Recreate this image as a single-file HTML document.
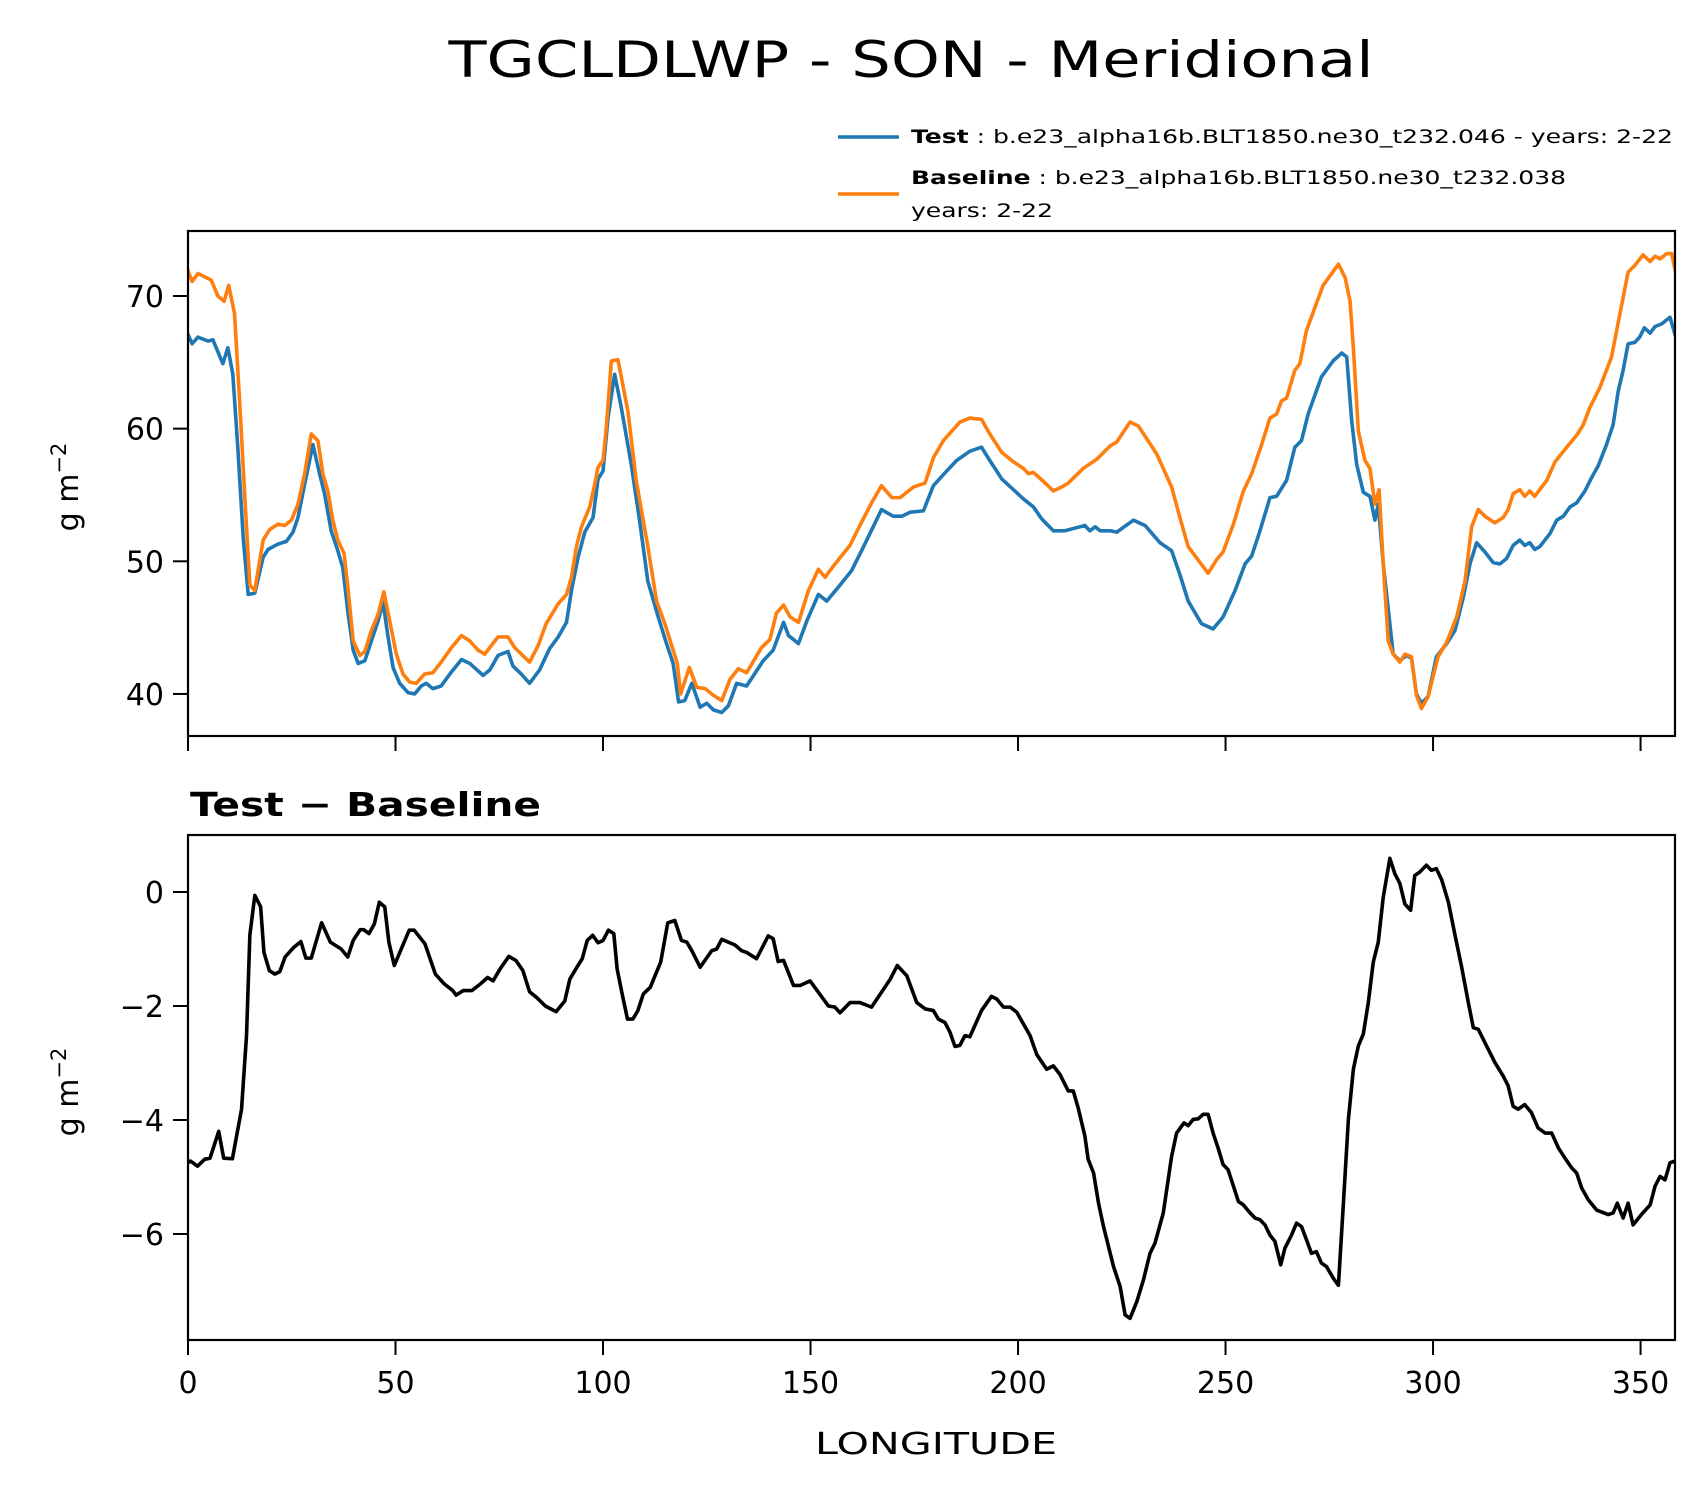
<!DOCTYPE html>
<html><head><meta charset="utf-8"><style>
html,body{margin:0;padding:0;background:#fff}
svg{display:block;font-family:"DejaVu Sans","Liberation Sans",sans-serif}
</style></head><body>
<svg id="chart" width="1708" height="1496" viewBox="0 0 1708 1496" xmlns="http://www.w3.org/2000/svg">
<rect x="0" y="0" width="1708" height="1496" fill="#fff"/>
<text x="911" y="77" font-size="50" text-anchor="middle" textLength="925" lengthAdjust="spacingAndGlyphs">TGCLDLWP - SON - Meridional</text>
<g>
<line x1="838" y1="137" x2="899" y2="137" stroke="#1f77b4" stroke-width="3.5"/>
<text x="911" y="143" font-size="19" textLength="762" lengthAdjust="spacingAndGlyphs"><tspan font-weight="bold">Test</tspan> : b.e23_alpha16b.BLT1850.ne30_t232.046 - years: 2-22</text>
<line x1="838" y1="194" x2="899" y2="194" stroke="#ff7f0e" stroke-width="3.5"/>
<text x="911" y="184" font-size="19" textLength="655" lengthAdjust="spacingAndGlyphs"><tspan font-weight="bold">Baseline</tspan> : b.e23_alpha16b.BLT1850.ne30_t232.038</text>
<text x="911" y="217" font-size="19" textLength="142" lengthAdjust="spacingAndGlyphs">years: 2-22</text>
</g>
<text x="190" y="816" font-size="33" font-weight="bold" textLength="351" lengthAdjust="spacingAndGlyphs">Test − Baseline</text>
<text x="936" y="1454" font-size="30" text-anchor="middle" textLength="242" lengthAdjust="spacingAndGlyphs">LONGITUDE</text>
<text transform="translate(78,487) rotate(-90)" font-size="30" text-anchor="middle">g m<tspan dy="-12" font-size="21">−2</tspan></text>
<text transform="translate(78,1092) rotate(-90)" font-size="30" text-anchor="middle">g m<tspan dy="-12" font-size="21">−2</tspan></text>
<g id="top"></g>
<g id="bot"></g>
</svg>
<script>
const baseLon=[0,1,2.4,5.6,7.2,8.7,9.8,11.2,12.4,13.7,14.9,16.1,18.1,19.7,21.7,23.3,24.9,26.5,28.1,29.7,31.3,32.5,33.7,34.9,36.1,37.6,38.6,39.8,41.4,42.6,44.2,45.8,47.2,48.6,50.2,51.8,53.4,55,57,59,61,63.5,65.9,67.9,69.9,71.5,74.7,77.1,78.7,80.3,82.3,84.3,86.3,89.2,91.2,92.4,93.6,94.8,96.8,98,98.8,100,100.8,102,103.6,106,108,110.8,112.9,114.9,116.9,117.9,118.7,120.8,122.6,124.6,126.6,128.6,130.6,132.6,134.6,138.2,140.2,141.8,143.5,145.1,147.1,149.5,151.9,153.5,155.9,159.5,161.9,164.7,167.1,169.6,171.6,174.8,177.6,179.6,182,186,188.4,191.2,193.2,196.1,198.9,201.3,202.5,203.7,206.9,208.5,210.5,212.1,215.7,219,222.2,223.8,227,229,233.4,235,237,239,241,245.8,247.8,249.4,251.9,254.3,256.3,258.7,260.7,262.3,263.5,264.7,266.7,267.9,269.5,273.5,277.2,278.8,280,280.8,282,283.6,284.8,286,287,288,289.2,290.4,292,293.2,294.8,296,297.2,298.8,301.2,303.3,305.7,307.7,309.3,310.9,312.5,314.9,316.9,318.1,319.3,320.9,322.1,323.3,324.5,327.4,329.4,332.2,334.6,336.2,337.8,340.2,343,345,347,348.6,350.6,352.3,353.5,354.7,356.3,357.5,358.3];
const baseVals=[71.9,71.1,71.7,71.2,70.0,69.6,70.8,68.7,62.3,54.8,48.2,47.8,51.6,52.4,52.8,52.7,53.1,54.3,56.6,59.6,59.1,56.6,55.3,53.1,51.6,50.6,47.8,44.0,42.9,43.2,44.8,46.0,47.7,45.5,43.0,41.5,40.9,40.8,41.5,41.6,42.4,43.5,44.4,44.0,43.3,43.0,44.3,44.3,43.5,43.0,42.4,43.6,45.3,46.8,47.5,48.8,51.1,52.6,54.1,55.8,57.1,57.6,60.1,65.1,65.2,61.3,56.1,51.1,47.0,45.3,43.3,42.3,40.0,42.0,40.5,40.4,39.9,39.5,41.1,41.9,41.6,43.5,44.1,46.1,46.7,45.8,45.4,47.8,49.4,48.8,49.8,51.2,52.7,54.4,55.7,54.8,54.8,55.6,55.9,57.8,59.1,60.5,60.8,60.7,59.6,58.2,57.5,57.0,56.6,56.7,55.8,55.3,55.6,55.9,57.0,57.7,58.7,59.0,60.5,60.2,58.1,57.0,55.6,53.3,51.1,49.1,50.1,50.7,52.8,55.3,56.6,58.8,60.8,61.1,62.1,62.3,64.4,64.9,67.4,70.8,72.4,71.4,69.6,66.1,59.8,57.6,57.0,54.3,55.4,49.8,44.0,43.0,42.4,43.0,42.8,39.9,38.9,39.8,42.8,43.9,45.8,48.5,52.6,53.9,53.4,52.9,53.3,53.9,55.1,55.4,54.9,55.3,54.9,56.1,57.5,58.6,59.5,60.3,61.6,63.1,65.4,68.6,71.8,72.3,73.1,72.6,73.0,72.8,73.2,73.2,72.0];
const testLon=[0,1,2.4,4.8,6,8.4,9.6,10.8,12,13.3,14.5,16.1,18.1,19.3,21.7,23.7,25.3,26.5,28.1,30.1,31.7,32.9,34.5,36.1,37.3,38.6,39.8,41,42.6,44.2,45.8,47,48.2,49.4,51,53,54.6,56.2,57.4,59,61,63.1,65.9,67.9,71.1,72.7,74.7,77.1,78.3,80.3,82.3,84.7,87.1,89.2,91.2,92.4,94,95.6,97.6,98.8,100,101.2,102.8,104.4,106.8,108.8,110.8,113.3,115.3,116.9,118.2,119.7,121.4,123.4,125,126.6,128.6,130.2,132.2,134.6,138.6,141,143.5,144.7,147.1,149.1,151.9,153.9,157.1,159.9,162.3,165.1,167.1,169.9,172,174,177.2,179.6,182.8,185.2,188.4,191.2,193.2,196.1,198.9,201.3,203.7,205.7,208.5,211.3,214.9,216.1,217.3,218.6,219.8,222.2,223.8,227.8,230.6,234.2,237,239,241,244.2,247,249.4,252.3,254.7,256.3,258.3,260.7,262.3,264.7,266.7,268.3,269.9,273.1,275.9,278,279.2,280.4,281.6,283.2,284.8,286,286.8,288,290.4,292,293.6,294.8,296,297.2,298.8,300.8,303.3,305.3,307.3,308.9,310.5,312.5,314.5,316.1,317.7,319.3,320.9,322.1,323.3,324.5,325.7,328.2,329.8,331.4,333,334.6,336.6,338.2,339.8,341.8,343.4,344.6,345.8,347,348.6,349.8,350.9,352.3,353.5,355.1,357.1,358.3];
const testVals=[67.1,66.4,66.9,66.6,66.7,64.9,66.1,64.1,58.6,51.8,47.5,47.6,50.3,50.9,51.3,51.5,52.2,53.3,55.8,58.8,56.6,55.1,52.3,50.8,49.5,46.0,43.3,42.3,42.5,44.0,45.5,46.9,44.3,42.0,40.8,40.1,40.0,40.6,40.8,40.4,40.6,41.5,42.6,42.3,41.4,41.8,42.9,43.2,42.1,41.5,40.8,41.8,43.4,44.3,45.4,47.8,50.3,52.2,53.3,56.2,56.8,60.8,64.1,61.6,57.3,53.1,48.5,45.8,43.8,42.3,39.4,39.5,40.8,39.0,39.3,38.8,38.6,39.1,40.8,40.6,42.5,43.3,45.4,44.4,43.8,45.5,47.5,47.0,48.2,49.3,50.8,52.6,53.9,53.4,53.4,53.7,53.8,55.7,56.8,57.6,58.3,58.6,57.6,56.2,55.4,54.7,54.1,53.2,52.3,52.3,52.6,52.7,52.3,52.6,52.3,52.3,52.2,53.1,52.7,51.4,50.8,49.0,47.0,45.3,44.9,45.8,47.8,49.8,50.4,52.3,54.8,54.9,56.1,58.6,59.1,61.1,63.9,65.1,65.7,65.4,60.6,57.3,55.2,54.9,53.1,54.3,49.8,43.0,42.5,42.9,42.7,40.0,39.3,39.8,42.8,43.8,44.8,47.3,49.8,51.4,50.7,49.9,49.8,50.2,51.2,51.6,51.2,51.4,50.9,51.1,52.1,53.1,53.4,54.1,54.4,55.3,56.3,57.2,58.8,60.3,62.8,64.4,66.4,66.5,66.9,67.6,67.2,67.7,67.9,68.4,67.1];
const diffLon=[0,0.6,2.3,4.0,5.3,7.4,8.6,10.7,12.9,14.1,14.9,16.1,17.5,18.3,19.6,20.9,22.1,23.4,25.5,27.2,28.4,29.7,32.2,34.3,36.9,38.5,39.8,41.5,42.3,43.6,44.9,46.1,47.4,48.4,49.7,53.3,54.5,57.1,59.6,61.7,63.8,64.6,66.3,68.4,70.5,72.2,73.5,75.2,77.3,79.0,80.7,82.3,84.0,86.1,88.7,90.8,92.0,93.7,95.0,96.2,97.5,98.8,100.0,101.3,102.6,103.4,104.7,105.9,107.2,108.4,109.7,111.4,113.9,115.6,117.3,118.9,120.2,121.4,123.4,126.2,127.4,128.6,131.8,133.4,134.6,137,139.8,141,142.2,143.5,145.9,147.5,149.9,151.9,154.3,155.9,157.1,159.5,161.9,164.7,169.2,170.9,173.2,175.6,177.6,179.6,180.8,182.4,183.6,184.8,186,187.2,188.4,191.2,193.6,194.9,196.5,198.1,199.7,202.9,204.5,206.9,208.5,210.1,212.1,213.3,214.5,216.1,216.9,218.2,219.4,220.6,223,224.6,225.8,227,228.6,230.2,231.8,233,235,237,238.2,239,240,241,242.2,243.4,244.6,245.8,247,248.2,249.4,250.6,251.9,253.1,254.3,255.9,257.1,258.3,259.5,260.7,261.9,263.3,264.3,265.9,267.1,268.3,269.5,270.7,271.9,273.1,274.3,276,277.2,278.4,279.6,280.8,282,283.2,284.4,285.6,286.8,288,289.6,290.8,292,293.2,294.6,295.6,296.8,298.4,299.6,300.8,302.1,303.7,305.3,306.9,308.5,309.7,310.9,312.9,314.9,316.9,318.1,319.3,320.5,322.1,323.7,325.3,327,328.6,330.2,331.8,333.4,334.6,335.8,337.4,339.4,342.2,343.4,344.4,345.8,347,348.2,350.2,352.3,353.5,354.7,355.9,357.1,358.3];
const diffVals=[-4.75,-4.72,-4.81,-4.69,-4.67,-4.20,-4.67,-4.68,-3.81,-2.52,-0.76,-0.06,-0.26,-1.06,-1.38,-1.44,-1.40,-1.14,-0.97,-0.87,-1.16,-1.16,-0.54,-0.88,-1.00,-1.14,-0.85,-0.66,-0.66,-0.73,-0.56,-0.18,-0.26,-0.88,-1.29,-0.67,-0.67,-0.91,-1.44,-1.61,-1.73,-1.81,-1.73,-1.73,-1.61,-1.50,-1.56,-1.35,-1.13,-1.20,-1.38,-1.75,-1.85,-2.00,-2.10,-1.91,-1.53,-1.32,-1.17,-0.85,-0.76,-0.89,-0.85,-0.67,-0.73,-1.35,-1.82,-2.23,-2.23,-2.08,-1.79,-1.67,-1.23,-0.54,-0.50,-0.85,-0.88,-1.03,-1.32,-1.03,-1.00,-0.83,-0.93,-1.03,-1.06,-1.17,-0.77,-0.82,-1.22,-1.20,-1.64,-1.64,-1.56,-1.76,-2.00,-2.02,-2.12,-1.94,-1.94,-2.02,-1.53,-1.29,-1.47,-1.94,-2.05,-2.08,-2.23,-2.29,-2.46,-2.71,-2.69,-2.52,-2.54,-2.08,-1.83,-1.88,-2.02,-2.02,-2.11,-2.52,-2.85,-3.11,-3.05,-3.20,-3.49,-3.49,-3.79,-4.28,-4.69,-4.93,-5.46,-5.87,-6.57,-6.92,-7.42,-7.48,-7.19,-6.81,-6.34,-6.16,-5.63,-4.64,-4.23,-4.15,-4.05,-4.10,-3.99,-3.98,-3.90,-3.90,-4.23,-4.49,-4.78,-4.87,-5.16,-5.43,-5.49,-5.63,-5.72,-5.75,-5.84,-6.02,-6.13,-6.54,-6.25,-6.02,-5.81,-5.87,-6.10,-6.34,-6.31,-6.51,-6.57,-6.78,-6.90,-5.46,-3.99,-3.11,-2.70,-2.49,-1.94,-1.23,-0.88,-0.09,0.59,0.32,0.15,-0.21,-0.32,0.29,0.35,0.47,0.38,0.41,0.21,-0.18,-0.76,-1.32,-1.94,-2.38,-2.41,-2.70,-2.99,-3.23,-3.40,-3.76,-3.81,-3.73,-3.87,-4.14,-4.23,-4.23,-4.49,-4.67,-4.84,-4.93,-5.19,-5.40,-5.58,-5.66,-5.63,-5.46,-5.72,-5.46,-5.84,-5.66,-5.49,-5.16,-4.99,-5.05,-4.75,-4.72];
const xTicks=[0,50,100,150,200,250,300,350];
const topTicks=[40,50,60,70];
const botTicks=[-6,-4,-2,0];

const NS='http://www.w3.org/2000/svg';
const L=188,R=1675;
const XMIN=0,XMAX=358.3;
function xs(v){return L+(v-XMIN)/(XMAX-XMIN)*(R-L);}
const TT=231,TB=736,TMIN=36.83,TMAX=74.9;
function yTop(v){return TB-(v-TMIN)/(TMAX-TMIN)*(TB-TT);}
const BT=835,BB=1340,BMIN=-7.86,BMAX=1.0;
function yBot(v){return BB-(v-BMIN)/(BMAX-BMIN)*(BB-BT);}
function mk(tag,attrs,parent){const e=document.createElementNS(NS,tag);for(const k in attrs)e.setAttribute(k,attrs[k]);parent.appendChild(e);return e;}
function fmt(v){return v<0?'\u2212'+Math.abs(v):String(v);}

function panel(g,top,bot,yf,yticks,series,clipId,showXLabels){
  const defs=mk('defs',{},g);
  const cp=mk('clipPath',{id:clipId},defs);
  mk('rect',{x:L,y:top,width:R-L,height:bot-top},cp);
  series.forEach(s=>{
    const d=s.lon.map((lo,i)=>(i?'L':'M')+xs(lo).toFixed(2)+' '+yf(s.vals[i]).toFixed(2)).join(' ');
    const p=mk('path',{d:d,fill:'none',stroke:s.color,'stroke-width':3.6,'stroke-linejoin':'round','stroke-linecap':'square','clip-path':'url(#'+clipId+')'},g);
    
    
  });
  const fr=mk('rect',{x:L,y:top,width:R-L,height:bot-top,fill:'none',stroke:'#000','stroke-width':2.2},g);
  
  
  yticks.forEach(t=>{
    const y=yf(t);
    const tl=mk('line',{x1:L-15,y1:y,x2:L,y2:y,stroke:'#000','stroke-width':2},g);
    
    
    const tx=mk('text',{x:L-24,y:y+11,'font-size':30,'text-anchor':'end'},g);
    tx.textContent=fmt(t);
    
    
  });
  xTicks.forEach(t=>{
    const x=xs(t);
    const tl=mk('line',{x1:x,y1:bot,x2:x,y2:bot+15,stroke:'#000','stroke-width':2},g);
    
    
    if(showXLabels){
      const tx=mk('text',{x:x,y:bot+53,'font-size':30,'text-anchor':'middle'},g);
      tx.textContent=String(t);
      
      
    }
  });
}
panel(document.getElementById('top'),TT,TB,yTop,topTicks,[
  {lon:testLon,vals:testVals,color:'#1f77b4',name:'test-line'},
  {lon:baseLon,vals:baseVals,color:'#ff7f0e',name:'baseline-line'}],'clipTop',false);
panel(document.getElementById('bot'),BT,BB,yBot,botTicks,[
  {lon:diffLon,vals:diffVals,color:'#000',name:'difference-line'}],'clipBot',true);
</script>
</body></html>
